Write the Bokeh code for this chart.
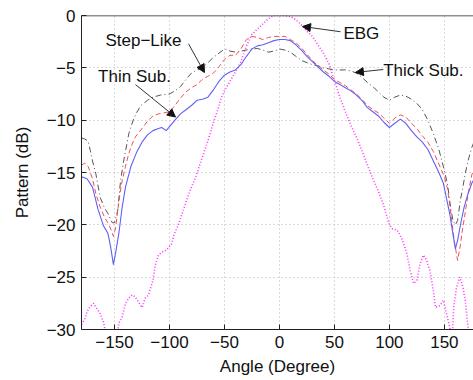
from bokeh.plotting import figure
from bokeh.models import Range1d, FixedTicker, Label, Arrow, NormalHead, Span
from bokeh.embed import file_html
from bokeh.resources import INLINE

# ---------------- data ----------------
thin_x = [-180, -175, -170, -165, -160, -156, -153.5, -151, -149, -146, -143, -140, -135, -130, -125, -120,
          -115, -110, -107, -103, -99, -95, -90, -85, -80, -75, -70, -65, -60, -55, -50, -45, -40, -35,
          -30, -25, -20, -15, -10, -5, 0, 5, 10, 15, 20, 25, 30, 35, 40, 45, 50, 55, 60, 65, 70, 75, 80,
          85, 90, 95, 100, 105, 110, 115, 120, 125, 130, 135, 140, 145, 149, 152, 155, 158, 160, 162,
          165, 168, 171, 175, 178]
thin_y = [-15.4, -15.6, -16.4, -18.5, -20.1, -20.8, -22.1, -23.8, -22.7, -20.8, -18.3, -16.4, -14.4, -13.1,
          -12.1, -11.4, -11.0, -10.8, -10.7, -11.0, -10.5, -10.0, -9.4, -9.0, -8.6, -8.1, -8.0, -7.8, -7.1,
          -6.3, -5.7, -5.4, -5.2, -4.7, -3.9, -3.2, -2.9, -2.8, -2.6, -2.4, -2.3, -2.3, -2.4, -2.8, -3.3,
          -3.9, -4.4, -4.9, -5.4, -5.8, -6.3, -6.6, -6.9, -7.2, -7.6, -8.1, -8.8, -9.2, -9.6, -10.2, -10.7,
          -10.3, -9.9, -10.3, -11.0, -11.6, -12.1, -12.8, -13.9, -15.0, -16.0, -17.5, -19.0, -21.0, -22.3,
          -21.5, -19.8, -18.3, -17.2, -16.0, -15.5]

step_x = [-180, -177, -174, -170, -167, -163, -159, -155.5, -153, -151, -149, -147, -145, -143, -140, -137,
          -134, -131, -125, -120, -115, -110, -105, -100, -95, -90, -85, -80, -75, -70, -65, -60, -55,
          -50, -45, -40, -35, -30, -25, -20, -15, -10, -5, 0, 5, 10, 15, 20, 25, 30, 35, 40, 45, 50, 55,
          60, 65, 70, 75, 80, 85, 90, 95, 100, 105, 110, 115, 120, 125, 130, 135, 140, 145, 150, 153,
          156, 159, 162, 164, 166, 169, 172, 175, 178]
step_y = [-14.3, -14.1, -14.4, -15.6, -17.0, -18.3, -19.3, -19.9, -20.5, -21.1, -20.3, -18.6, -17.0, -15.8,
          -14.4, -13.2, -12.3, -11.6, -10.8, -10.1, -9.6, -9.4, -9.3, -9.2, -8.6, -7.9, -7.3, -6.9, -6.6,
          -6.1, -5.8, -5.5, -4.9, -4.2, -3.8, -3.8, -3.2, -2.3, -2.0, -2.1, -2.3, -2.1, -2.0, -2.0, -2.0,
          -2.3, -2.6, -3.1, -3.7, -4.3, -4.8, -5.2, -5.6, -6.1, -6.4, -6.7, -7.1, -7.5, -8.0, -8.6, -9.0,
          -9.3, -9.8, -10.3, -9.8, -9.5, -9.7, -10.3, -10.8, -11.5, -12.1, -13.0, -14.2, -15.4, -16.6,
          -19.0, -21.5, -23.4, -22.3, -20.8, -18.8, -16.8, -15.2, -14.5]

thick_x = [-180, -177, -174, -172, -170, -167, -163, -159, -156, -152, -150, -147, -144.5, -141.5, -137,
           -133, -130, -126, -120, -115, -108, -100, -95, -90, -85, -80, -75, -70, -65, -60, -55, -50,
           -45, -40, -35, -30, -25, -20, -15, -10, -5, 0, 5, 10, 15, 20, 25, 30, 35, 40, 45, 50, 55, 60,
           65, 70, 75, 80, 85, 90, 95, 100, 105, 110, 115, 120, 125, 130, 135, 140, 145, 150, 153, 156,
           158, 160, 162, 164.5, 167, 169, 172, 175, 178]
thick_y = [-11.7, -11.8, -12.0, -12.9, -13.9, -15.1, -17.4, -18.4, -18.9, -19.8, -19.8, -18.6, -15.8, -13.8,
           -11.3, -10.0, -9.3, -8.6, -8.1, -7.8, -7.6, -7.5, -7.2, -6.8, -6.1, -5.5, -5.2, -5.0, -4.5, -4.0,
           -3.6, -3.2, -3.4, -3.5, -3.4, -3.3, -3.2, -3.15, -3.3, -3.5, -3.4, -3.2, -3.3, -3.5, -3.9, -4.3,
           -4.5, -4.7, -4.8, -5.0, -5.1, -5.2, -5.2, -5.2, -5.3, -5.5, -5.9, -6.4, -6.8, -7.3, -7.8, -8.1,
           -7.8, -7.6, -7.7, -8.0, -8.4, -9.0, -10.0, -11.3, -12.8, -14.8, -16.2, -18.6, -19.6, -20.0,
           -19.6, -17.7, -16.3, -15.1, -13.7, -12.6, -11.8]

ebg_x = [-180, -177, -175, -172, -169, -166, -163, -160, -158, -155, -151, -148, -146, -143, -140, -137,
         -134, -131, -128, -125, -122, -119, -117, -115, -113, -110, -107, -104, -101, -98, -96, -92, -88,
         -84, -80, -76, -72, -67, -63, -60, -56, -53, -50, -45, -40, -35, -30, -25, -20, -15, -10, -5, 0,
         5, 10, 15, 20, 25, 30, 35, 40, 45, 50, 55, 60, 65, 70, 75, 80, 85, 90, 95, 100, 103, 107, 110,
         113, 116, 119, 122, 125, 128, 131, 134, 137, 140, 142, 146, 149, 152, 155, 157, 158.5, 161, 164,
         167, 169, 171, 173, 176]
ebg_y = [-29.5, -29.0, -28.3, -27.8, -27.5, -28.0, -28.5, -29.3, -30.3, -31.5, -32.0, -30.8, -29.4, -28.8,
         -27.5, -27.0, -26.7, -26.9, -27.4, -27.9, -27.0, -26.7, -26.0, -25.3, -23.9, -22.9, -22.6, -22.5,
         -22.2, -21.8, -21.0, -20.0, -18.8, -17.5, -16.4, -15.4, -14.1, -12.6, -11.3, -10.2, -9.0, -7.9,
         -7.2, -6.3, -5.4, -4.4, -2.9, -1.8, -1.3, -0.8, -0.3, 0.0, 0.0, 0.0, -0.1, -0.4, -0.9, -1.5, -2.0,
         -2.8, -3.6, -4.6, -6.2, -7.8, -9.2, -10.5, -11.6, -12.9, -14.3, -15.6, -16.8, -18.2, -20.0, -20.4,
         -20.5, -21.0, -21.8, -22.8, -24.4, -25.6, -25.3, -23.7, -22.9, -23.4, -24.4, -26.3, -27.9, -27.7,
         -27.2, -28.5, -29.8, -31.0, -27.9, -26.0, -25.0, -26.0, -27.2, -29.3, -31.0, -31.5]

x_ticks = [-150, -100, -50, 0, 50, 100, 150]
x_tick_labels = ["\u2212150", "\u2212100", "\u221250", "0", "50", "100", "150"]
y_ticks = [-30, -25, -20, -15, -10, -5, 0]
y_tick_labels = ["\u221230", "\u221225", "\u221220", "\u221215", "\u221210", "\u22125", "0"]

FONT = "Liberation Sans"

p = figure(width=473, height=380, output_backend="svg", toolbar_location=None,
           x_range=Range1d(-180, 176.5), y_range=Range1d(-30, 0),
           min_border_left=81, min_border_right=0, min_border_top=15, min_border_bottom=51)
p.background_fill_color = "white"
p.border_fill_color = "white"
p.outline_line_color = None

for ax, ticks, labels in ((p.xaxis[0], x_ticks, x_tick_labels), (p.yaxis[0], y_ticks, y_tick_labels)):
    ax.ticker = FixedTicker(ticks=ticks)
    ax.major_label_overrides = {t: l for t, l in zip(ticks, labels)}
    ax.major_tick_in = 5
    ax.major_tick_out = 0
    ax.minor_tick_line_color = None
    ax.axis_line_color = "#222222"
    ax.major_tick_line_color = "#222222"
    ax.major_label_text_font = FONT
    ax.major_label_text_font_size = "17px"
    ax.major_label_text_color = "#111111"
    ax.axis_label_text_font = FONT
    ax.axis_label_text_font_size = "17px"
    ax.axis_label_text_font_style = "normal"
    ax.axis_label_text_color = "#111111"

p.xaxis.axis_label = "Angle (Degree)"
p.yaxis.axis_label = "Pattern (dB)"
p.xaxis.major_label_standoff = 6
p.xaxis.axis_label_standoff = 6
p.yaxis.major_label_standoff = 6
p.yaxis.axis_label_standoff = 12

p.grid.grid_line_color = "#b5b5b5"
p.grid.grid_line_dash = "1 3"
p.grid.grid_line_width = 1

# top frame border only (the right border is outside the reference's crop)
p.add_layout(Span(location=0, dimension="width", line_color="#222222", line_width=1.5))

p.line(ebg_x, ebg_y, line_color="#ff33ff", line_width=1.6, line_dash="1 2")
p.line(thick_x, thick_y, line_color="#555555", line_width=1, line_dash="6 3 1 3")
p.line(step_x, step_y, line_color="#f05050", line_width=1, line_dash="5 3")
p.line(thin_x, thin_y, line_color="#6060f5", line_width=1.1)

# annotations (text label, text position, arrow start, arrow end)
notes = [
    ("Step\u2212Like", (-123.6, -2.4), (-82.7, -2.7), (-68.2, -5.45)),
    ("Thin Sub.", (-131.8, -5.85), (-130.9, -6.6), (-94.5, -9.7)),
    ("EBG", (74.5, -1.72), (55.5, -1.55), (21.0, -1.05)),
    ("Thick Sub.", (130.9, -5.25), (94.5, -5.16), (69.1, -5.44)),
]
for txt, (tx, ty), (ax0, ay0), (ax1, ay1) in notes:
    p.add_layout(Label(x=tx, y=ty, text=txt, text_align="center", text_baseline="middle",
                       text_font=FONT, text_font_size="17px", text_color="#111111"))
    p.add_layout(Arrow(x_start=ax0, y_start=ay0, x_end=ax1, y_end=ay1,
                       line_color="#333333", line_width=1,
                       end=NormalHead(size=8, fill_color="#111111", line_color="#111111", line_width=1)))

open("out.html", "w").write(file_html(p, INLINE))
